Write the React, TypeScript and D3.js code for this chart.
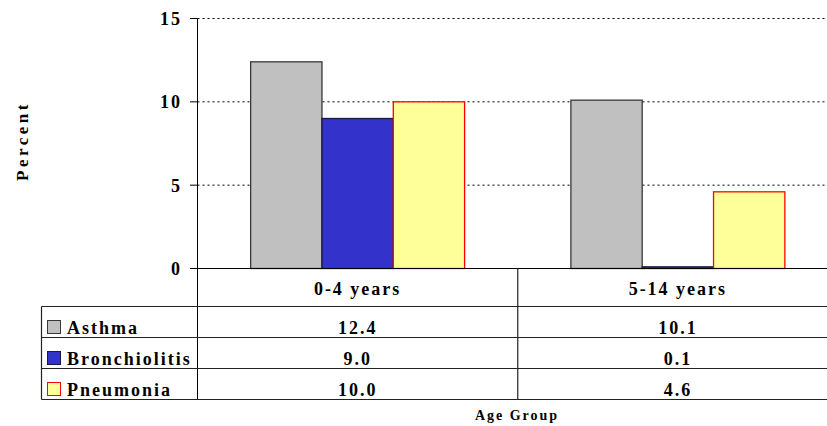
import React from "react";
import * as d3 from "d3";

const categories = ["0-4 years", "5-14 years"];
const seriesNames = ["Asthma", "Bronchiolitis", "Pneumonia"];
const asthma = [12.4, 10.1];
const bronchiolitis = [9.0, 0.1];
const pneumonia = [10.0, 4.6];
const yTicks = [0, 5, 10, 15];
const seriesValues = [asthma, bronchiolitis, pneumonia];

const fills = ["#c0c0c0", "#3333cc", "#ffff99"];
const strokes = ["#383838", "#1a1a40", "#ff0000"];

const W = 827;
const H = 426;
const plotLeft = 197.5;
const plotRight = 838;
const plotTop = 18.5;
const plotBottom = 268.5;
const tableLeft = 41.5;
const headerBottom = 306.5;
const rowH = 31;

const FONT = "'Liberation Serif', 'Times New Roman', serif";

export default function App() {
  const x = d3.scaleBand<string>().domain(categories).range([plotLeft, plotRight]).paddingInner(0).paddingOuter(0);
  const xs = d3.scaleBand<string>().domain(seriesNames).range([0, x.bandwidth()]).paddingInner(0).paddingOuter(0.745);
  const y = d3.scaleLinear().domain([0, 15]).range([plotBottom, plotTop]);
  const tableBottom = headerBottom + rowH * seriesNames.length;

  return (
    <svg width={W} height={H} style={{ position: "absolute", left: 0, top: 0, background: "#fff" }}>
      <rect x={0} y={0} width={W} height={H} fill="#fff" />
      {/* gridlines */}
      {yTicks.filter((t) => t > 0).map((t) => (
        <line key={"g" + t} x1={plotLeft} x2={plotRight} y1={y(t)} y2={y(t)} stroke="#000" strokeWidth={1} strokeDasharray="2,3" />
      ))}
      {/* bars */}
      {seriesNames.map((s, si) =>
        categories.map((c, ci) => {
          const v = seriesValues[si][ci];
          const bx = (x(c) as number) + (xs(s) as number);
          return (
            <rect key={s + c} x={bx} y={y(v)} width={xs.bandwidth()} height={plotBottom - y(v)}
              fill={fills[si]} stroke={strokes[si]} strokeWidth={1.3} />
          );
        })
      )}
      {/* axes */}
      <line x1={plotLeft} x2={plotLeft} y1={plotTop} y2={tableBottom} stroke="#000" strokeWidth={1} />
      <line x1={190} x2={plotRight} y1={plotBottom} y2={plotBottom} stroke="#000" strokeWidth={1} />
      {yTicks.map((t) => (
        <g key={"t" + t}>
          <line x1={190} x2={plotLeft} y1={y(t)} y2={y(t)} stroke="#000" strokeWidth={1} />
          <text x={182} y={y(t) + 6.5} textAnchor="end" fontFamily={FONT} fontWeight="bold" fontSize={18} letterSpacing={2} fill="#000">
            {t}
          </text>
        </g>
      ))}
      {/* table */}
      {d3.range(seriesNames.length + 1).map((i) => (
        <line key={"h" + i} x1={tableLeft} x2={plotRight} y1={headerBottom + i * rowH} y2={headerBottom + i * rowH} stroke="#222" strokeWidth={1.2} />
      ))}
      <line x1={tableLeft} x2={tableLeft} y1={headerBottom} y2={tableBottom} stroke="#222" strokeWidth={1.2} />
      {categories.slice(1).map((c) => (
        <line key={"v" + c} x1={x(c) as number} x2={x(c) as number} y1={plotBottom} y2={tableBottom} stroke="#222" strokeWidth={1.2} />
      ))}
      {categories.map((c) => (
        <text key={"c" + c} x={(x(c) as number) + x.bandwidth() / 2} y={295} textAnchor="middle" fontFamily={FONT} fontWeight="bold" fontSize={18} letterSpacing={2} fill="#000">
          {c}
        </text>
      ))}
      {seriesNames.map((s, si) => {
        const base = headerBottom + si * rowH + 27;
        return (
          <g key={"r" + s}>
            <rect x={47.5} y={base - 13} width={13} height={13} fill={fills[si]} stroke={strokes[si]} strokeWidth={1} />
            <text x={67} y={base} fontFamily={FONT} fontWeight="bold" fontSize={18} letterSpacing={2} fill="#000">
              {s}
            </text>
            {categories.map((c, ci) => (
              <text key={c} x={(x(c) as number) + x.bandwidth() / 2} y={base} textAnchor="middle" fontFamily={FONT} fontWeight="bold" fontSize={18} letterSpacing={2} fill="#000">
                {seriesValues[si][ci].toFixed(1)}
              </text>
            ))}
          </g>
        );
      })}
      {/* axis titles */}
      <text x={517} y={420} textAnchor="middle" fontFamily={FONT} fontWeight="bold" fontSize={14} letterSpacing={2} fill="#000">
        Age Group
      </text>
      <text transform="translate(28,141) rotate(-90)" textAnchor="middle" fontFamily={FONT} fontWeight="bold" fontSize={17} letterSpacing={3.5} fill="#000">
        Percent
      </text>
    </svg>
  );
}
